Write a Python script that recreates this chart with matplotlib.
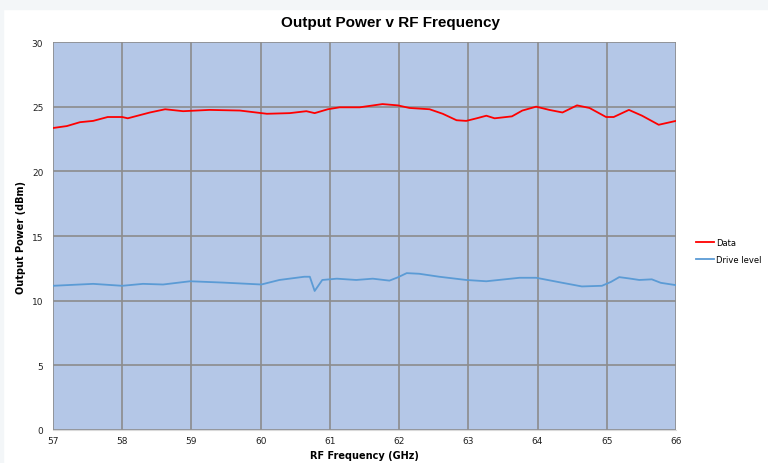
import matplotlib
matplotlib.use('Agg')
import matplotlib.pyplot as plt
from matplotlib.patches import Rectangle

# values
data_freq = [57.0, 57.2, 57.39, 57.58, 57.79, 58.0, 58.08, 58.4, 58.62, 58.88,
             59.26, 59.7, 60.09, 60.42, 60.66, 60.78, 60.97, 61.14, 61.43, 61.76,
             61.98, 62.15, 62.44, 62.63, 62.83, 62.97, 63.12, 63.26, 63.38, 63.63,
             63.78, 63.98, 64.17, 64.36, 64.57, 64.75, 64.99, 65.1, 65.32, 65.51,
             65.75, 66.0]
data_power = [23.35, 23.5, 23.8, 23.9, 24.2, 24.2, 24.1, 24.55, 24.8, 24.65,
              24.75, 24.7, 24.45, 24.5, 24.65, 24.5, 24.8, 24.95, 24.95, 25.2,
              25.1, 24.9, 24.8, 24.45, 23.95, 23.9, 24.1, 24.3, 24.1, 24.25,
              24.7, 25.0, 24.75, 24.55, 25.1, 24.9, 24.2, 24.2, 24.75, 24.3,
              23.6, 23.9]

drive_freq = [57.0, 57.58, 58.0, 58.3, 58.59, 58.98, 59.45, 60.01, 60.27, 60.63,
              60.71, 60.78, 60.89, 61.1, 61.38, 61.62, 61.86, 61.98, 62.11, 62.29,
              62.58, 62.97, 63.26, 63.74, 63.98, 64.36, 64.64, 64.93, 65.06, 65.18,
              65.32, 65.47, 65.65, 65.78, 66.0]
drive_level = [11.15, 11.3, 11.15, 11.3, 11.25, 11.5, 11.4, 11.25, 11.6, 11.85,
               11.85, 10.75, 11.6, 11.7, 11.6, 11.7, 11.55, 11.8, 12.13, 12.08,
               11.85, 11.6, 11.5, 11.77, 11.77, 11.38, 11.1, 11.15, 11.45, 11.82,
               11.72, 11.6, 11.65, 11.38, 11.2]

x_ticks = [57, 58, 59, 60, 61, 62, 63, 64, 65, 66]
y_ticks = [0, 5, 10, 15, 20, 25, 30]

fig = plt.figure(figsize=(7.68, 4.64), dpi=100)
fig.patch.set_facecolor('white')
# thin grey frame strips at top and left, as in the screenshot
fig.patches.append(Rectangle((0, 1 - 10 / 464), 1, 10 / 464, transform=fig.transFigure,
                             color='#f3f6f8', zorder=0))
fig.patches.append(Rectangle((0, 0), 3 / 768, 1, transform=fig.transFigure,
                             color='#f3f6f8', zorder=0))

ax = fig.add_axes([53 / 768, 1 - 431 / 464, 623 / 768, 388 / 464])
ax.set_facecolor('#b4c7e7')

ax.plot(data_freq, data_power, color='#ff0000', lw=1.3, label='Data')
ax.plot(drive_freq, drive_level, color='#5b9bd5', lw=1.3, label='Drive level')

ax.set_xlim(57, 66)
ax.set_ylim(0, 30)
ax.set_xticks(x_ticks)
ax.set_yticks(y_ticks)
ax.grid(True, color='#8c8c8c', lw=1.2)
ax.set_axisbelow(True)
ax.tick_params(length=0, labelsize=6.5, colors='#222222')
ax.tick_params(axis='x', pad=4)
ax.tick_params(axis='y', pad=7)

for side in ['top', 'right', 'left']:
    ax.spines[side].set_visible(False)
ax.spines['bottom'].set_color('#d9d9d9')

ax.set_xlabel('RF Frequency (GHz)', fontsize=7, fontweight='bold', labelpad=4)
ax.set_ylabel('Output Power (dBm)', fontsize=7, fontweight='bold', labelpad=4)

fig.text(0.508, 1 - 23 / 464, 'Output Power v RF Frequency', ha='center', va='center',
         fontsize=11, fontweight='bold', family='Liberation Sans')

fig.legend(loc='center left', bbox_to_anchor=(696 / 768, 1 - 252 / 464), frameon=False,
           fontsize=6, handlelength=2.2, handletextpad=0.25, labelspacing=0.9,
           borderaxespad=0, borderpad=0)

plt.savefig('out.png', dpi=100)
